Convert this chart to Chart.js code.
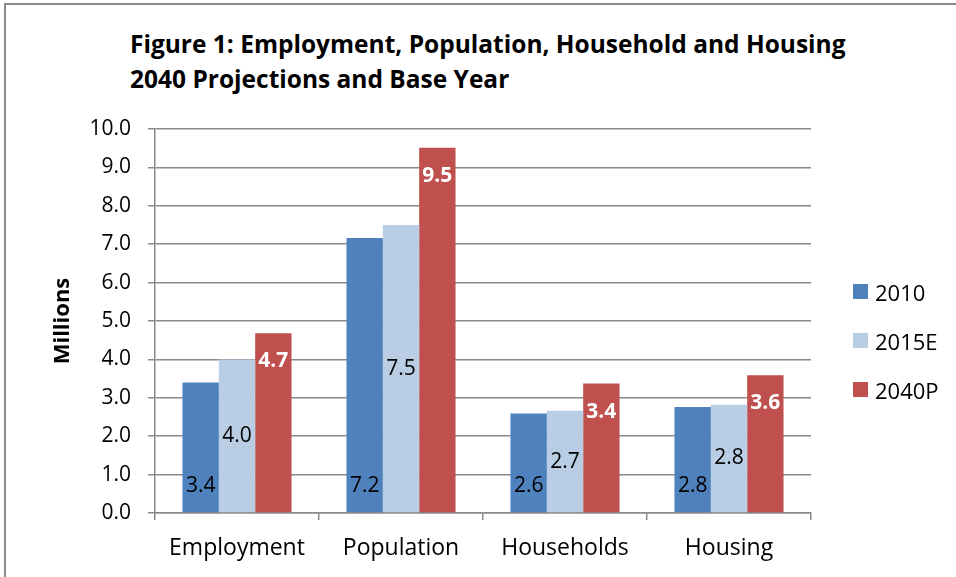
<!DOCTYPE html>
<html>
<head>
<meta charset="utf-8">
<script src="https://cdn.jsdelivr.net/npm/chart.js@4.4.0/dist/chart.umd.min.js"></script>
<style>
    body { margin: 0; background: #fff; font-family: "Open Sans", sans-serif; }
    .wrap { position: relative; width: 956px; height: 577px; overflow: hidden; }
    .frame { position: absolute; left: 4px; top: 3px; width: 1000px; height: 1000px; border-left: 2px solid #8c8c8c; border-top: 2px solid #8c8c8c; }
    .title { position: absolute; left: 130px; top: 26px; font-size: 24.5px; font-weight: bold; line-height: 35px; color: #000; white-space: nowrap; }
    canvas { position: absolute; left: 0; top: 0; }
    .legend { position: absolute; left: 853px; top: 267px; }
    .legend-item { height: 49px; display: flex; align-items: center; font-size: 22px; color: #000; }
    .legend-item span.box { width: 15px; height: 15px; margin-right: 7px; display: inline-block; }
</style>
</head>
<body>
<div class="wrap">
    <div class="frame"></div>
    <div class="title">Figure 1: Employment, Population, Household and Housing<br>2040 Projections and Base Year</div>
    <canvas id="chart" width="956" height="577"></canvas>
    <div class="legend" id="legend"></div>
</div>
<script>
const categories = ['Employment', 'Population', 'Households', 'Housing'];
const seriesNames = ['2010', '2015E', '2040P'];
const values2010 = [3.40, 7.16, 2.59, 2.76];
const values2015E = [4.00, 7.50, 2.66, 2.82];
const values2040P = [4.68, 9.51, 3.37, 3.59];
const seriesColors = ['#4f81bd', '#b9cde5', '#c0504d'];

const gridColor = '#8a8a8a';
const fontFamily = '"Open Sans", sans-serif';

// value labels: 2010 at the bar foot, 2015E in the middle, 2040P at the top (white bold)
const valueLabels = {
    id: 'valueLabels',
    afterDatasetsDraw(chart) {
        let ctx = chart.ctx;
        ctx.save();
        ctx.textAlign = 'center';
        ctx.textBaseline = 'middle';
        chart.data.datasets.forEach(function(ds, di) {
            let meta = chart.getDatasetMeta(di);
            meta.data.forEach(function(bar, i) {
                let text = ds.data[i].toFixed(1);
                let y;
                if (di === 0) {
                    y = bar.base - 26;
                    ctx.font = '21px ' + fontFamily;
                    ctx.fillStyle = '#000';
                } else if (di === 1) {
                    y = (bar.y + bar.base) / 2;
                    ctx.font = '21px ' + fontFamily;
                    ctx.fillStyle = '#000';
                } else {
                    y = bar.y + 28;
                    ctx.font = 'bold 21px ' + fontFamily;
                    ctx.fillStyle = '#fff';
                }
                ctx.fillText(text, bar.x, y);
            });
        });
        ctx.restore();
    }
};

let allValues = [values2010, values2015E, values2040P];
let datasets = [];
for (let i = 0; i < seriesNames.length; i++) {
    datasets.push({
        label: seriesNames[i],
        data: allValues[i],
        backgroundColor: seriesColors[i],
        borderWidth: 0,
        categoryPercentage: 0.665,
        barPercentage: 1.0
    });
}

let legendHTML = '';
for (let i = 0; i < seriesNames.length; i++) {
    legendHTML += `<div class="legend-item"><span class="box" style="background:${seriesColors[i]}"></span>${seriesNames[i]}</div>`;
}
document.getElementById('legend').innerHTML = legendHTML;

new Chart(document.getElementById('chart'), {
    type: 'bar',
    data: {
        labels: categories,
        datasets: datasets
    },
    plugins: [valueLabels],
    options: {
        responsive: false,
        animation: false,
        layout: {
            padding: { left: 46, right: 145, top: 129, bottom: 10 }
        },
        plugins: {
            legend: { display: false },
            tooltip: { enabled: false }
        },
        scales: {
            x: {
                afterFit(scale) { scale.height = 54; },
                grid: {
                    display: true,
                    drawOnChartArea: false,
                    drawTicks: true,
                    tickLength: 7,
                    color: gridColor,
                    lineWidth: 1.5
                },
                border: { display: true, color: gridColor, width: 1.5 },
                ticks: {
                    color: '#000',
                    padding: 15,
                    font: { family: fontFamily, size: 23 }
                }
            },
            y: {
                min: 0,
                max: 10,
                afterFit(scale) { scale.width = 109; },
                grid: {
                    color: gridColor,
                    lineWidth: 1.5,
                    tickLength: 7
                },
                border: { display: true, color: gridColor, width: 1.5 },
                ticks: {
                    stepSize: 1,
                    color: '#000',
                    padding: 17,
                    font: { family: fontFamily, size: 21 },
                    callback: function(v) { return v.toFixed(1); }
                },
                title: {
                    display: true,
                    text: 'Millions',
                    color: '#000',
                    font: { family: fontFamily, size: 22, weight: 'bold' }
                }
            }
        }
    }
});
</script>
</body>
</html>
